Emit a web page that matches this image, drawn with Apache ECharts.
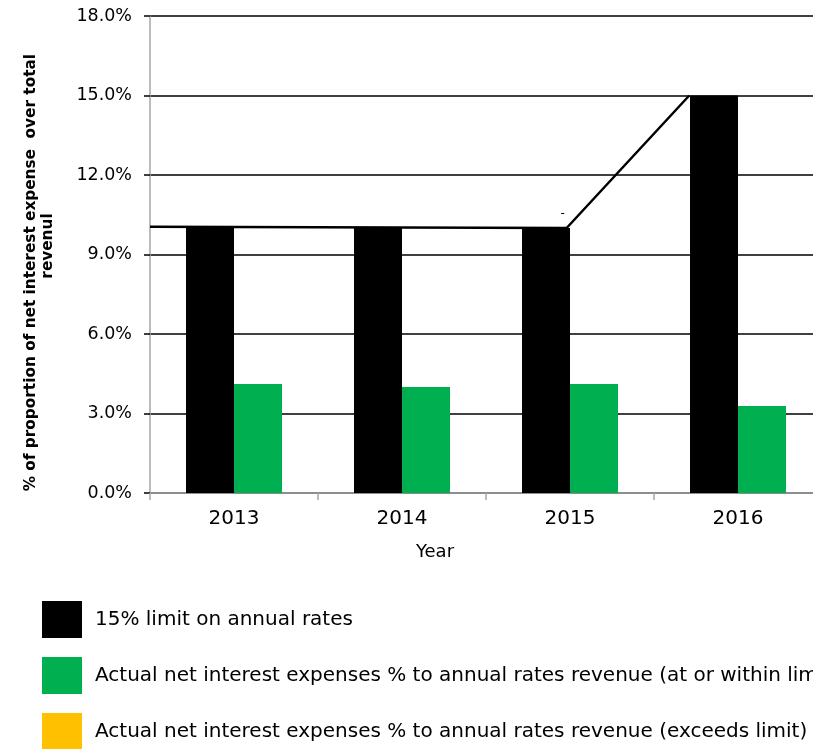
<!DOCTYPE html>
<html>
<head>
<meta charset="utf-8">
<script src="https://cdn.jsdelivr.net/npm/echarts@6/dist/echarts.min.js"></script>
<style>
html,body{margin:0;padding:0;background:#fff;}
#chart{width:813px;height:749px;}
</style>
</head>
<body>
<div id="chart"></div>
<script>
var years = ['2013', '2014', '2015', '2016'];
var limitValues = [10.0, 10.0, 10.0, 15.0];
var actualWithin = [4.11, 4.0, 4.11, 3.28];
var actualExceeds = [null, null, null, null];
// limit line: [position along category axis (0..4), value %]
var limitLine = [[0, 10.05], [2.48, 10.0], [3.21, 15.0]];
var yTicks = [0, 3, 6, 9, 12, 15, 18];
var legendNames = ['15% limit on annual rates',
  'Actual net interest expenses % to annual rates revenue (at or within limit)',
  'Actual net interest expenses % to annual rates revenue (exceeds limit)'];

var FONT = 'DejaVu Sans';
var legendTops = [601, 657, 713];
var chart = echarts.init(document.getElementById('chart'), null, {renderer: 'canvas'});
chart.setOption({
  animation: false,
  backgroundColor: '#ffffff',
  textStyle: {fontFamily: FONT},
  grid: {left: 150, top: 16, width: 672, height: 477, containLabel: false, outerBoundsMode: 'none'},
  legend: legendNames.map(function (n, i) {
    return {
      orient: 'vertical',
      left: 42, top: legendTops[i],
      padding: 0,
      itemWidth: 40, itemHeight: 37,
      icon: 'rect',
      selectedMode: false,
      data: [n],
      textStyle: {fontFamily: FONT, fontSize: 20, color: '#000', padding: [5, 0, 0, 8]}
    };
  }),
  xAxis: [{
    type: 'category',
    data: years,
    boundaryGap: true,
    name: 'Year',
    nameLocation: 'middle',
    nameGap: 50,
    nameTextStyle: {fontFamily: FONT, fontSize: 18, color: '#000', padding: [0, 102, 0, 0]},
    axisLine: {lineStyle: {color: '#a6a6a6', width: 1.5}},
    axisTick: {show: true, interval: 0, length: 7, lineStyle: {color: '#a6a6a6', width: 1.5}},
    axisLabel: {fontFamily: FONT, fontSize: 20, color: '#000', margin: 16},
    splitLine: {show: false}
  }, {
    type: 'value',
    min: 0, max: 4,
    show: false
  }],
  yAxis: [{
    type: 'value',
    min: 0, max: 18, interval: 3,
    name: '% of proportion of net interest expense  over total          \nrevenul',
    nameLocation: 'middle',
    nameRotate: 90,
    nameGap: 93,
    nameTextStyle: {fontFamily: FONT, fontSize: 15.3, fontWeight: 'bold', color: '#000', lineHeight: 17,
      padding: [0, 0, 0, 17]},
    axisLine: {show: true, lineStyle: {color: '#a6a6a6', width: 1.5}},
    axisTick: {show: true, length: 6, lineStyle: {color: '#000', width: 1.5}},
    axisLabel: {fontFamily: FONT, fontSize: 17.5, color: '#000', margin: 18,
      formatter: function (v) { return v.toFixed(1) + '%'; }},
    splitLine: {show: true, lineStyle: {color: '#000', width: 1.5}}
  }],
  series: [{
    name: legendNames[0],
    type: 'bar',
    data: limitValues,
    barWidth: 48,
    barGap: '0%',
    itemStyle: {color: '#000000'}
  }, {
    name: legendNames[1],
    type: 'bar',
    data: actualWithin,
    barWidth: 48,
    barGap: '0%',
    itemStyle: {color: '#00B050'}
  }, {
    name: legendNames[2],
    type: 'bar',
    data: actualExceeds,
    barWidth: 0,
    barGap: '0%',
    itemStyle: {color: '#FFC000'}
  }, {
    name: 'limit line',
    type: 'line',
    xAxisIndex: 1,
    yAxisIndex: 0,
    data: limitLine.map(function (p, i) {
      var item = {value: p};
      if (i === 1) {
        item.label = {show: true, formatter: '-', position: 'top', distance: 8, offset: [-4, 0],
          fontSize: 12, color: '#000', fontFamily: FONT};
      }
      return item;
    }),
    showSymbol: true,
    symbol: 'circle',
    symbolSize: 0.1,
    itemStyle: {color: '#000'},
    lineStyle: {color: '#000', width: 2.5},
    z: 5
  }]
});
</script>
</body>
</html>
